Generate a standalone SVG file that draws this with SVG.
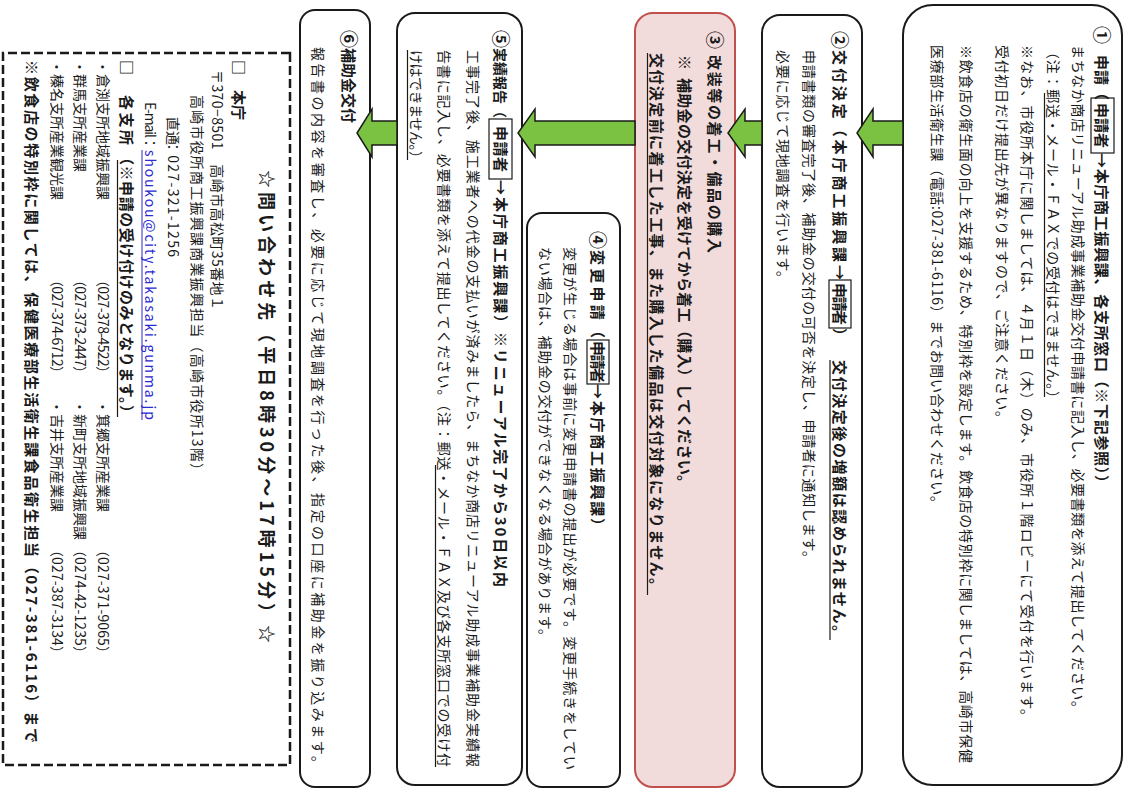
<svg xmlns="http://www.w3.org/2000/svg" width="1131" height="791" viewBox="0 0 1131 791">
<style>
.t{font-family:"Noto Sans CJK JP","Noto Sans CJK SC",sans-serif;font-size:14px;fill:#1a1a1a}
.b{font-weight:bold;font-size:15px}
.num{font-size:18px}
.box{fill:#fff;stroke:#1a1a1a;stroke-width:2}
.pink{fill:#f2dcdb;stroke:#c0504d;stroke-width:2}
.ul{stroke:#1a1a1a;stroke-width:1.2}
.tag{fill:none;stroke:#1a1a1a;stroke-width:1.2}
.arrow{fill:#7cc242;stroke:#1a1a1a;stroke-width:1.5;stroke-linejoin:miter}
.dash{fill:#fff;stroke:#1a1a1a;stroke-width:2.5;stroke-dasharray:9 4}
.link{fill:#2a2ad0}
</style>
<rect width="1131" height="791" fill="#fff"/>
<g transform="translate(1131,0) rotate(90)">
  <g id="step1">
    <rect class="box" x="5" y="9" width="780" height="219" rx="30"/>
    <text class="t b num" x="26" y="36">①</text>
    <text class="t b" x="55" y="35" textLength="45">申請（</text>
    <rect class="tag" x="98" y="17" width="55" height="23"/>
    <text class="t b" x="103" y="35" textLength="45">申請者</text>
    <text class="t b" x="153" y="35" textLength="337">→本庁商工振興課、各支所窓口（※下記参照））</text>
    <text class="t" x="45" y="58" textLength="670">まちなか商店リニューアル助成事業補助金交付申請書に記入し、必要書類を添えて提出してください。</text>
    <text class="t" x="45" y="83" textLength="360">（注：郵送・メール・ＦＡＸでの受付はできません。）</text>
    <line class="ul" x1="93" y1="86.5" x2="397" y2="86.5"/>
    <text class="t" x="45" y="109" textLength="678">※なお、市役所本庁に関しましては、４月１日（木）のみ、市役所１階ロビーにて受付を行います。</text>
    <text class="t" x="45" y="134" textLength="380">受付初日だけ提出先が異なりますので、ご注意ください。</text>
    <text class="t" x="45" y="170" textLength="718">※飲食店の衛生面の向上を支援するため、特別枠を設定します。飲食店の特別枠に関しましては、高崎市保健</text>
    <text class="t" x="45" y="199" textLength="465">医療部生活衛生課（電話:027-381-6116）までお問い合わせください。</text>
  </g>
  <g id="step2">
    <rect class="box" x="15" y="269" width="772" height="100" rx="18"/>
    <text class="t b num" x="31" y="298">②</text>
    <text class="t b" x="50" y="297" textLength="230">交付決定（本庁商工振興課→</text>
    <rect class="tag" x="280" y="280" width="48" height="22"/>
    <text class="t b" x="283" y="297" textLength="42">申請者</text>
    <text class="t b" x="328" y="297">）</text>
    <text class="t b" x="360" y="297" textLength="280">交付決定後の増額は認められません。</text>
    <line class="ul" x1="360" y1="301" x2="640" y2="301"/>
    <text class="t" x="50" y="327" textLength="515">申請書類の審査完了後、補助金の交付の可否を決定し、申請者に通知します。</text>
    <text class="t" x="50" y="353" textLength="235">必要に応じて現地調査を行います。</text>
  </g>
  <g id="step3">
    <rect class="pink" x="13" y="396" width="774" height="100" rx="18"/>
    <text class="t b num" x="31" y="423">③</text>
    <text class="t b" x="55" y="422" textLength="198">改装等の着工・備品の購入</text>
    <text class="t b" x="55" y="452">※</text>
    <text class="t b" x="78" y="452" textLength="412">補助金の交付決定を受けてから着工（購入）してください。</text>
    <text class="t b" x="53" y="480" textLength="540">交付決定前に着工した工事、また購入した備品は交付対象になりません。</text>
    <line class="ul" x1="53" y1="483.5" x2="595" y2="483.5"/>
  </g>
  <g id="step4">
    <rect class="box" x="213" y="511" width="574" height="93" rx="15"/>
    <text class="t b num" x="231" y="540">④</text>
    <text class="t b" x="250" y="539" textLength="88">変更申請（</text>
    <rect class="tag" x="340" y="522" width="44" height="22"/>
    <text class="t b" x="341" y="539" textLength="42">申請者</text>
    <text class="t b" x="384" y="539" textLength="149">→本庁商工振興課）</text>
    <text class="t" x="247" y="566" textLength="523">変更が生じる場合は事前に変更申請書の提出が必要です。変更手続きをしてい</text>
    <text class="t" x="247" y="591" textLength="396">ない場合は、補助金の交付ができなくなる場合があります。</text>
  </g>
  <g id="step5">
    <rect class="box" x="13" y="609" width="772" height="125" rx="18"/>
    <text class="t b num" x="30" y="637">⑤</text>
    <text class="t b" x="48" y="636" style="font-size:14px">実績報告（</text>
    <rect class="tag" x="119" y="619" width="60" height="23"/>
    <text class="t b" x="126" y="636" textLength="46">申請者</text>
    <text class="t b" x="180" y="636" textLength="407">→本庁商工振興課）※リニューアル完了から30日以内</text>
    <text class="t" x="50" y="663" textLength="717">工事完了後、施工業者への代金の支払いが済みましたら、まちなか商店リニューアル助成事業補助金実績報</text>
    <text class="t" x="50" y="692" textLength="717">告書に記入し、必要書類を添えて提出してください。（注：郵送・メール・ＦＡＸ及び各支所窓口での受け付</text>
    <line class="ul" x1="465" y1="695.5" x2="767" y2="695.5"/>
    <text class="t" x="50" y="720" textLength="115">けはできません。）</text>
    <line class="ul" x1="50" y1="723.5" x2="160" y2="723.5"/>
  </g>
  <g id="step6">
    <rect class="box" x="10" y="761" width="777" height="70" rx="15"/>
    <text class="t b num" x="30" y="789">⑥</text>
    <text class="t b" x="48" y="788">補助金交付</text>
    <text class="t" x="47" y="818" textLength="723">報告書の内容を審査し、必要に応じて現地調査を行った後、指定の口座に補助金を振り込みます。</text>
  </g>
  <g id="contact">
    <rect class="dash" x="53" y="841" width="712" height="287"/>
    <text class="t b" x="170" y="871" style="font-size:18px" textLength="473">☆問い合わせ先（平日8時30分～17時15分）☆</text>
    <text class="t b" x="60" y="898">□</text>
    <text class="t b" x="90" y="898">本庁</text>
    <text class="t" x="70" y="919" textLength="240">〒370−8501　高崎市高松町35番地１</text>
    <text class="t" x="95" y="939" textLength="382">高崎市役所商工振興課商業振興担当（高崎市役所13階）</text>
    <text class="t" x="117" y="963">直通</text>
    <text class="t" x="140" y="963" textLength="117">：027-321-1256</text>
    <text class="t" x="102" y="986" textLength="36">E-mail</text>
    <text class="t" x="136" y="986">：</text>
    <text class="t link" x="150" y="986" textLength="270">shoukou@city.takasaki.gunma.jp</text>
    <line x1="150" y1="989" x2="420" y2="989" stroke="#2a2ad0" stroke-width="1"/>
    <text class="t b" x="60" y="1010">□</text>
    <text class="t b" x="95" y="1010" textLength="50">各支所</text>
    <text class="t b" x="150" y="1010" textLength="270">（※申請の受け付けのみとなります。）</text>
    <line class="ul" x1="160" y1="1013.5" x2="417" y2="1013.5"/>
    <text class="t" x="60" y="1033">・倉渕支所地域振興課</text>
    <text class="t" x="273" y="1033" textLength="107">（027-378-4522）</text>
    <text class="t" x="400" y="1033">・箕郷支所産業課</text>
    <text class="t" x="543" y="1033" textLength="117">（027-371-9065）</text>
    <text class="t" x="60" y="1056">・群馬支所産業課</text>
    <text class="t" x="273" y="1056" textLength="107">（027-373-2447）</text>
    <text class="t" x="400" y="1056">・新町支所地域振興課</text>
    <text class="t" x="543" y="1056" textLength="117">（0274-42-1235）</text>
    <text class="t" x="60" y="1079">・榛名支所産業観光課</text>
    <text class="t" x="273" y="1079" textLength="107">（027-374-6712）</text>
    <text class="t" x="400" y="1079">・吉井支所産業課</text>
    <text class="t" x="543" y="1079" textLength="117">（027-387-3134）</text>
    <text class="t b" x="60" y="1105" textLength="683">※飲食店の特別枠に関しては、保健医療部生活衛生課食品衛生担当（027-381-6116）まで</text>
  </g>
  <g id="connectors">
    <polygon class="arrow" points="121,228 145,228 145,258 157,258 133,274 109,258 121,258"/>
    <polygon class="arrow" points="121,369 145,369 145,386 157,386 133,403 109,386 121,386"/>
    <polygon class="arrow" points="121,496 145,496 145,596 157,596 133,613 109,596 121,596"/>
    <polygon class="arrow" points="121,734 145,734 145,759 157,759 133,774 109,759 121,759"/>
  </g>
</g>
</svg>
